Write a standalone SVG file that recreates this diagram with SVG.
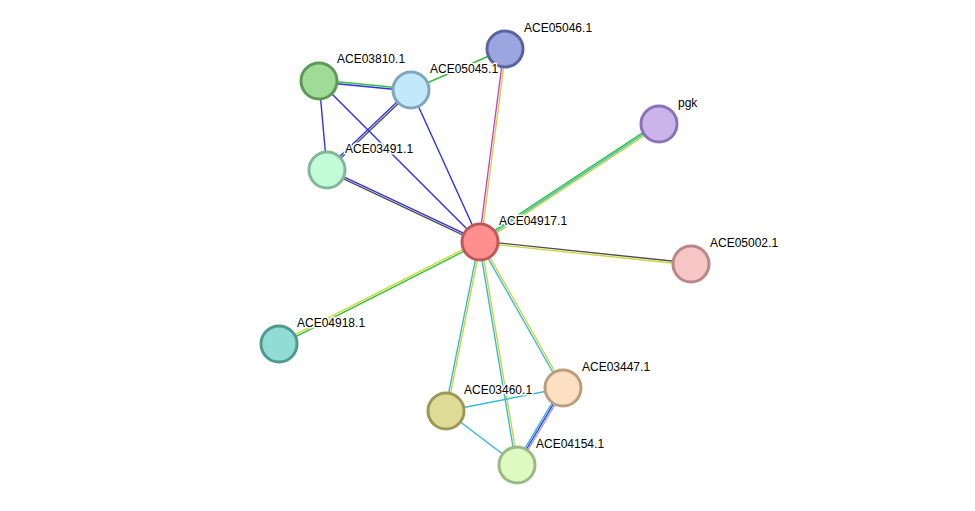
<svg xmlns="http://www.w3.org/2000/svg" width="975" height="511" viewBox="0 0 975 511">
<style>
line{stroke-width:1.4;fill:none}
.b{stroke:#3030f0}.g{stroke:#30c030}.y{stroke:#c8d838}.c{stroke:#38b8d8}.k{stroke:#505050}.m{stroke:#d040d0}.l{stroke:#a8a0f8}
circle{stroke-width:3}
text{font-family:"Liberation Sans",Arial,sans-serif;font-size:12px;fill:#000;stroke:#fff;stroke-width:3;paint-order:stroke;stroke-linejoin:round}
</style>
<rect width="975" height="511" fill="#fff"/>
<g id="connectors">
<line class="m" x1="479" y1="242" x2="504" y2="49"/><line class="y" x1="481" y1="242" x2="506" y2="49"/>
<line class="g" x1="479.1" y1="240.7" x2="658.1" y2="122.7"/><line class="c" x1="480" y1="242" x2="659" y2="124"/><line class="y" x1="480.9" y1="243.3" x2="659.9" y2="125.3"/>
<line class="k" x1="480" y1="241" x2="691" y2="263"/><line class="y" x1="480" y1="243" x2="691" y2="265"/>
<line class="y" x1="479.5" y1="241.1" x2="278.5" y2="343.1"/><line class="g" x1="480.5" y1="242.9" x2="279.5" y2="344.9"/>
<line class="c" x1="479.1" y1="242.5" x2="562.1" y2="388.5"/><line class="y" x1="480.9" y1="241.5" x2="563.9" y2="387.5"/>
<line class="c" x1="479" y1="242" x2="445" y2="411"/><line class="y" x1="481" y1="242" x2="447" y2="411"/>
<line class="c" x1="479" y1="242" x2="516" y2="465"/><line class="y" x1="481" y1="242" x2="518" y2="465"/>
<line class="b" x1="480.4" y1="241.1" x2="327.4" y2="169.1"/><line class="k" x1="479.6" y1="242.9" x2="326.6" y2="170.9"/>
<line class="b" x1="480" y1="242" x2="319" y2="81"/>
<line class="b" x1="480" y1="242" x2="411" y2="90"/>
<line class="g" x1="319" y1="80" x2="411" y2="89"/><line class="b" x1="319" y1="82" x2="411" y2="91"/>
<line class="b" x1="319" y1="81" x2="327" y2="170"/>
<line class="b" x1="410.3" y1="89.3" x2="326.3" y2="169.3"/><line class="k" x1="411.7" y1="90.7" x2="327.7" y2="170.7"/>
<line class="g" x1="411" y1="90" x2="505" y2="49"/>
<line class="c" x1="446" y1="411" x2="563" y2="388"/>
<line class="c" x1="446" y1="411" x2="517" y2="465"/>
<line class="c" x1="561.5" y1="387.1" x2="515.5" y2="464.1"/><line class="b" x1="563" y1="388" x2="517" y2="465"/><line class="l" x1="564.5" y1="388.9" x2="518.5" y2="465.9"/>
</g>
<g id="ACE04917.1"><circle cx="480" cy="242" r="18" fill="#ff8f8f" stroke="#c05858"/><text x="499" y="225">ACE04917.1</text></g>
<g id="ACE05046.1"><circle cx="505" cy="49" r="18" fill="#9ba5e0" stroke="#5a65a0"/><text x="524" y="32">ACE05046.1</text></g>
<g id="ACE03810.1"><circle cx="319" cy="81" r="18" fill="#9fdc95" stroke="#5c9a55"/><text x="337" y="63">ACE03810.1</text></g>
<g id="ACE05045.1"><circle cx="411" cy="90" r="18" fill="#c2e8fb" stroke="#7fa6bd"/><text x="430" y="73">ACE05045.1</text></g>
<g id="ACE03491.1"><circle cx="327" cy="170" r="18" fill="#c2fcd9" stroke="#80b898"/><text x="345" y="153">ACE03491.1</text></g>
<g id="pgk"><circle cx="659" cy="124" r="18" fill="#cab4ea" stroke="#8a72b8"/><text x="678" y="107">pgk</text></g>
<g id="ACE05002.1"><circle cx="691" cy="264" r="18" fill="#f6c5c5" stroke="#b88888"/><text x="710" y="247">ACE05002.1</text></g>
<g id="ACE04918.1"><circle cx="279" cy="344" r="18" fill="#91dcd4" stroke="#4e9990"/><text x="297" y="327">ACE04918.1</text></g>
<g id="ACE03447.1"><circle cx="563" cy="388" r="18" fill="#fde0c2" stroke="#bb9e7e"/><text x="582" y="371">ACE03447.1</text></g>
<g id="ACE03460.1"><circle cx="446" cy="411" r="18" fill="#dedb96" stroke="#9c9855"/><text x="464" y="394">ACE03460.1</text></g>
<g id="ACE04154.1"><circle cx="517" cy="465" r="18" fill="#defcc2" stroke="#9cb884"/><text x="536" y="448">ACE04154.1</text></g>
</svg>
